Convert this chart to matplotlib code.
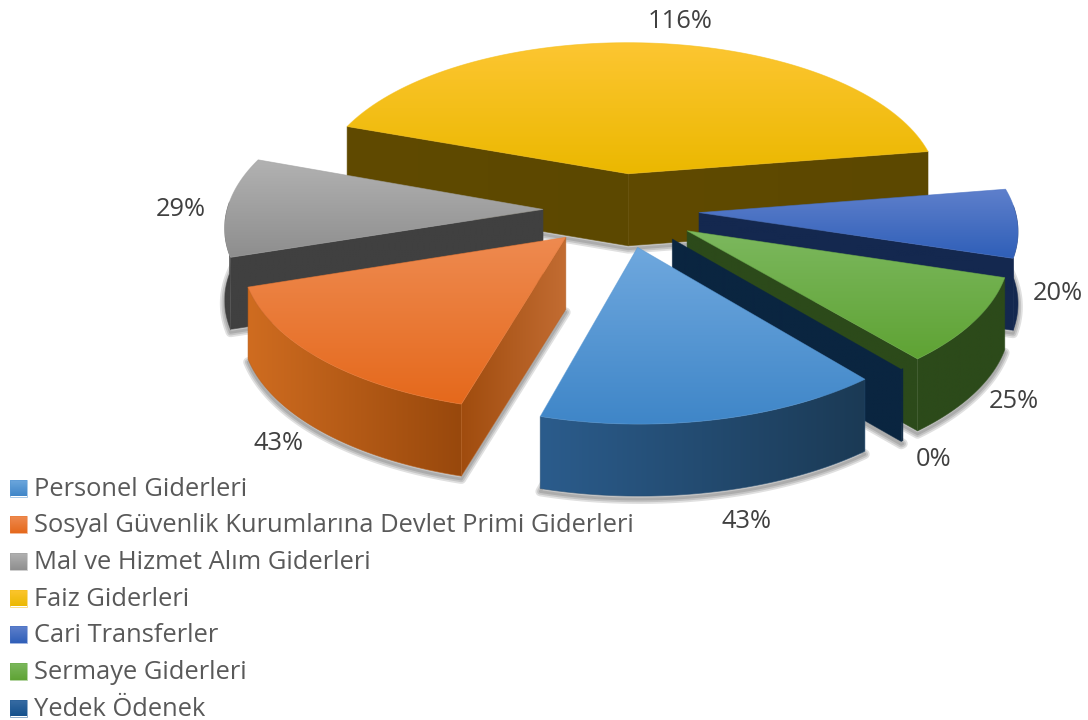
import numpy as np
import matplotlib
matplotlib.use('Agg')
import matplotlib.pyplot as plt
from matplotlib.colors import to_rgb
from matplotlib.patches import Polygon

categories = ['Personel Giderleri', 'Sosyal Güvenlik Kurumlarına Devlet Primi Giderleri',
              'Mal ve Hizmet Alım Giderleri', 'Faiz Giderleri', 'Cari Transferler',
              'Sermaye Giderleri', 'Yedek Ödenek']
values = [43, 43, 29, 116, 20, 25, 0.3]

# top face colours (upper, lower)
top_colors = [('#6fa8de', '#3f86c8'), ('#ee8a50', '#e5691c'), ('#b2b2b2', '#8e8e8e'),
              ('#fdc632', '#ebb800'), ('#5f80cc', '#2f5fb8'), ('#7cb85e', '#5fa334'),
              ('#3a6ea5', '#14508c')]
# side colours (left, right)
side_colors = [('#2b5c8c', '#1b3a55'), ('#cf6c20', '#98480c'), ('#404040', '#404040'),
               ('#604a00', '#5c4800'), ('#14284f', '#14284f'), ('#2c4a1a', '#2c4a1a'),
               ('#0a2540', '#0a2540')]
label_pos = [(747, 521), (279, 444), (181, 210), (680, 21), (1058, 293), (1014, 402), (934, 459)]

start_angle = 140
R = 316
k = 0.478
persp = 0.10
explode = 78
depth = 72
cx, cy = 621, 210
draw_order = [3, 2, 4, 1, 5, 6, 0]

fig = plt.figure(figsize=(10.88, 7.2), dpi=100)
ax = fig.add_axes([0, 0, 1, 1])
ax.axis('off')
zorder = [1]


def project(X, Y, h=0):
    s = 1 / (1 - persp * Y / R)
    return np.column_stack([cx + X * s, cy + k * Y * s + h])


def grad_fill(pts, c0, c1, vertical=True):
    t = np.linspace(0, 1, 128)
    rgb = np.outer(1 - t, to_rgb(c0)) + np.outer(t, to_rgb(c1))
    img = rgb[:, None, :] if vertical else rgb[None, :, :]
    x0, y0 = pts.min(axis=0)
    x1, y1 = pts.max(axis=0)
    zorder[0] += 1
    im = ax.imshow(img, extent=(x0, x1, y1, y0), origin='upper', aspect='auto',
                   interpolation='bilinear', zorder=zorder[0])
    im.set_clip_path(Polygon(pts, transform=ax.transData))
    ax.add_patch(Polygon(pts, closed=True, fill=False, lw=0.6, alpha=0.6,
                         edgecolor=rgb[64], zorder=zorder[0]))


def shadow(pts):
    for lw in (7, 4.5, 2):
        zorder[0] += 1
        ax.add_patch(Polygon(pts + [0, 3], closed=True, facecolor='none', edgecolor='k',
                             lw=lw, alpha=0.12, joinstyle='round', zorder=zorder[0]))


angles = np.cumsum([0] + [v / sum(values) * 360 for v in values]) + start_angle

for i in draw_order:
    a0, a1 = angles[i], angles[i + 1]
    mid = np.radians((a0 + a1) / 2)
    ox, oy = explode * np.sin(mid), -explode * np.cos(mid)
    th = np.radians(np.linspace(a0, a1, 90))
    ax_x = np.r_[0, R * np.sin(th)] + ox
    ax_y = np.r_[0, -R * np.cos(th)] + oy
    top = project(ax_x, ax_y)
    bottom = project(ax_x, ax_y, depth)
    shadow(bottom)
    # radial walls that face the viewer
    for n, ang in ((1, a0 - 90), (len(th), a1 + 90)):
        if np.cos(np.radians(ang)) < 0:
            wall = np.array([top[0], top[n], bottom[n], bottom[0]])
            c = side_colors[i]
            if i == 1:
                c = ('#a04c0e', '#c26c32')
            if i == 0:
                c = ('#1b3a55', '#1b3a55')
            grad_fill(wall, c[0], c[1], vertical=False)
    # outer wall, front part only
    front = np.cos(th) < 0.05
    if front.any():
        idx = np.where(front)[0] + 1
        wall = np.vstack([top[idx], bottom[idx][::-1]])
        grad_fill(wall, side_colors[i][0], side_colors[i][1], vertical=False)
    if values[i] >= 1:
        grad_fill(top, top_colors[i][0], top_colors[i][1])

for v, (x, y) in zip(values, label_pos):
    ax.text(x, y, f'{v:.0f}%', fontsize=18.4, family='Open Sans', color='#404040',
            ha='center', va='center', zorder=500)

legend_y = np.linspace(488, 708, len(categories))
for name, c, y in zip(categories, top_colors, legend_y):
    sq = np.array([[10, y - 8.5], [27, y - 8.5], [27, y + 8.5], [10, y + 8.5]])
    grad_fill(sq, c[0], c[1])
    ax.text(34, y + 1, name, fontsize=18.4, family='Open Sans', color='#595959',
            ha='left', va='center', zorder=500)

ax.set_xlim(0, 1088)
ax.set_ylim(720, 0)
fig.savefig('out.png', dpi=100)
